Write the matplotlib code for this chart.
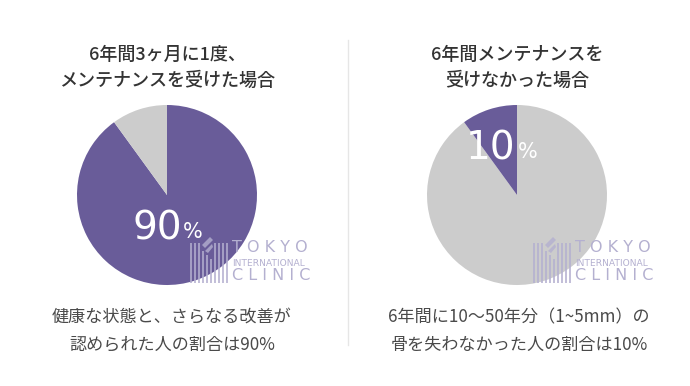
import matplotlib.pyplot as plt
from matplotlib.patches import Rectangle, Polygon

plt.rcParams['font.family'] = ['Noto Sans CJK JP', 'DejaVu Sans']

W, H = 690, 386

# data
left_title = "6年間3ヶ月に1度、\nメンテナンスを受けた場合"
right_title = "6年間メンテナンスを\n受けなかった場合"
left_caption = "健康な状態と、さらなる改善が\n認められた人の割合は90%"
right_caption = "6年間に10〜50年分（1~5mm）の\n骨を失わなかった人の割合は10%"
left_values = [90, 10]     # maintained, not
right_values = [90, 10]    # lost bone, kept bone
left_colors = ['#695c99', '#cccccc']
right_colors = ['#cccccc', '#695c99']

LOGO = '#b4b0d0'
TEXT = '#333333'


def px_axes(fig, x, y, w, h):
    # pixel box (top-left origin) -> figure axes
    return fig.add_axes([x / W, 1 - (y + h) / H, w / W, h / H])


def draw_logo(fig, x, y):
    ax = px_axes(fig, x, y, 125, 48)
    ax.set_xlim(0, 125)
    ax.set_ylim(48, 0)
    ax.axis('off')
    # bar icon
    bars = [(0, 6), (4, 6), (8, 6), (12, 14), (16, 18), (20, 22),
            (24, 6), (28, 6), (32, 6), (36, 6)]
    for bx, top in bars:
        ax.add_patch(Rectangle((bx, top), 2.4, 46 - top, color=LOGO, alpha=0.8, lw=0))
    # diagonal mark on top of the middle bars
    ax.add_patch(Polygon([(12, 8), (20, 0), (23, 3), (15, 11)], color=LOGO, alpha=0.8, lw=0))
    ax.add_patch(Polygon([(15, 14), (22, 7), (23, 10), (18, 16)], color=LOGO, alpha=0.8, lw=0))
    ax.text(42, 11, "T O K Y O", fontsize=11.5, color=LOGO, va='center', ha='left',
            family='DejaVu Sans')
    ax.text(42, 27, "INTERNATIONAL", fontsize=6.6, color=LOGO, va='center', ha='left',
            family='DejaVu Sans')
    ax.text(42, 39, "C L I N I C", fontsize=11.5, color=LOGO, va='center', ha='left',
            family='DejaVu Sans')


fig = plt.figure(figsize=(W / 100, H / 100), dpi=100)
fig.patch.set_facecolor('white')

# divider
fig.add_artist(plt.Line2D([348 / W, 348 / W], [1 - 40 / H, 1 - 345 / H],
                          color='#e6e6e6', lw=1))

# pies
axl = px_axes(fig, 77, 105, 180, 180)
axl.pie(left_values, colors=left_colors, startangle=90, counterclock=False,
        wedgeprops=dict(linewidth=0))
axl.set_xlim(-1, 1)
axl.set_ylim(-1, 1)
axl.set_aspect('equal')

axr = px_axes(fig, 427, 105, 180, 180)
axr.pie(right_values, colors=right_colors, startangle=90, counterclock=False,
        wedgeprops=dict(linewidth=0))
axr.set_xlim(-1, 1)
axr.set_ylim(-1, 1)
axr.set_aspect('equal')

draw_logo(fig, 190, 237)
draw_logo(fig, 533, 237)

# big percentages
fig.text(157 / W, 1 - 228 / H, str(left_values[0]), fontsize=28, color='white',
         ha='center', va='center', family='DejaVu Sans')
fig.text(193 / W, 1 - 232 / H, "%", fontsize=15, color='white',
         ha='center', va='center', family='DejaVu Sans')
fig.text(490 / W, 1 - 148 / H, str(right_values[1]), fontsize=28, color='white',
         ha='center', va='center', family='DejaVu Sans')
fig.text(528 / W, 1 - 152 / H, "%", fontsize=15, color='white',
         ha='center', va='center', family='DejaVu Sans')

# titles
fig.text(167 / W, 1 - 68 / H, left_title, fontsize=13, color=TEXT, ha='center',
         va='center', weight='medium', linespacing=1.5)
fig.text(517 / W, 1 - 68 / H, right_title, fontsize=13, color=TEXT, ha='center',
         va='center', weight='medium', linespacing=1.5)

# captions
fig.text(172 / W, 1 - 331 / H, left_caption, fontsize=12.3, color='#4a4a4a', ha='center',
         va='center', linespacing=1.65)
fig.text(519 / W, 1 - 331 / H, right_caption, fontsize=12.3, color='#4a4a4a', ha='center',
         va='center', linespacing=1.65)

fig.savefig('out.png', dpi=100)
